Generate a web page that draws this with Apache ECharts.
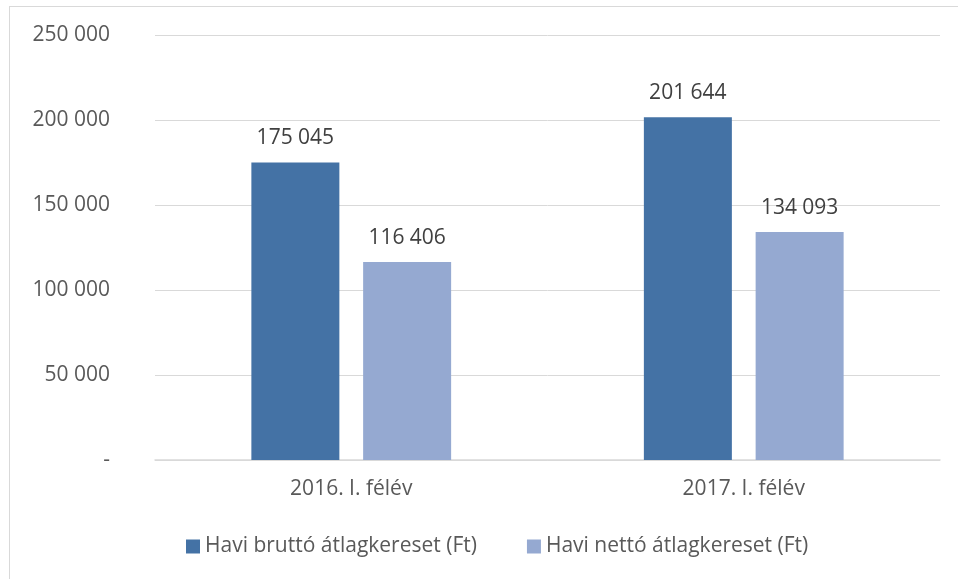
<!DOCTYPE html>
<html>
<head>
<meta charset="utf-8">
<script src="https://cdn.jsdelivr.net/npm/echarts@6/dist/echarts.min.js"></script>
<style>
  html, body { margin: 0; padding: 0; background: #fff; }
  #frame { position: absolute; left: 9px; top: 6px; width: 958px; height: 600px; border: 1px solid #d9d9d9; }
  #main { position: absolute; left: 0; top: 0; width: 958px; height: 579px; }
</style>
</head>
<body>
<div id="frame"></div>
<div id="main"></div>
<script>
// adatok
const categories = ['2016. I. félév', '2017. I. félév']
const brutto = [175045, 201644]
const netto = [116406, 134093]
const seriesNames = ['Havi bruttó átlagkereset (Ft)', 'Havi nettó átlagkereset (Ft)']

const fmt = v => v === 0 ? '-' : String(v).replace(/\B(?=(\d{3})+(?!\d))/g, ' ')
const font = 'Open Sans'

const chart = echarts.init(document.getElementById('main'))
const option = {
  animation: false,
  textStyle: { fontFamily: font },
  grid: { left: 155, right: 18, top: 35, bottom: 119 },
  legend: {
    left: 181, top: 531,
    itemWidth: 14, itemHeight: 14, itemGap: 50,
    icon: 'rect',
    textStyle: { fontFamily: font, fontSize: 21, color: '#595959' },
    data: seriesNames
  },
  xAxis: {
    type: 'category',
    data: categories,
    axisLine: { lineStyle: { color: '#d9d9d9', width: 1.5 } },
    axisTick: { show: false },
    axisLabel: { fontFamily: font, fontSize: 21, color: '#595959', margin: 19 }
  },
  yAxis: {
    type: 'value',
    min: 0, max: 250000, interval: 50000,
    axisLine: { show: false },
    axisTick: { show: false },
    splitLine: { lineStyle: { color: '#d9d9d9', width: 1 } },
    axisLabel: { fontFamily: font, fontSize: 21, color: '#595959', margin: 45, formatter: fmt }
  },
  series: [
    {
      name: seriesNames[0], type: 'bar', data: brutto,
      barWidth: 88, barGap: '27%',
      itemStyle: { color: '#4472a5' },
      label: { show: true, position: 'top', distance: 14, fontFamily: font, fontSize: 21, color: '#404040', formatter: p => fmt(p.value) }
    },
    {
      name: seriesNames[1], type: 'bar', data: netto,
      barWidth: 88,
      itemStyle: { color: '#95a9d1' },
      label: { show: true, position: 'top', distance: 14, fontFamily: font, fontSize: 21, color: '#404040', formatter: p => fmt(p.value) }
    }
  ]
}
chart.setOption(option)
</script>
</body>
</html>
